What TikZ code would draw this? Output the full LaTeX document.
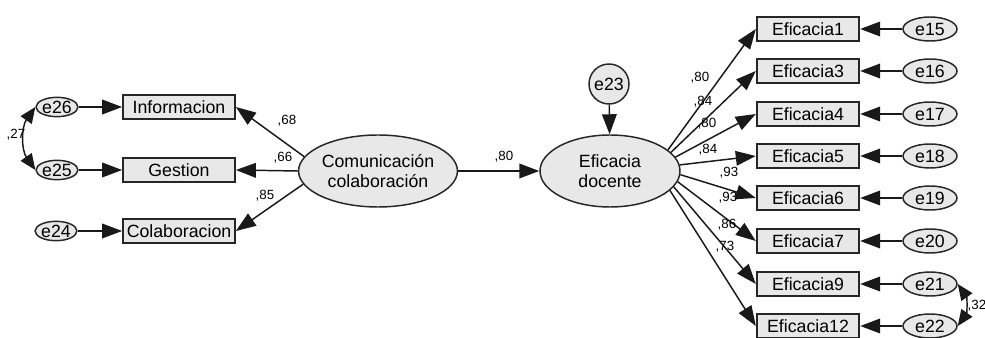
\documentclass[tikz,border=0pt]{standalone}
\usepackage{fontspec}
\setmainfont{Liberation Sans}
\usetikzlibrary{shapes,arrows.meta}

\begin{document}
\begin{tikzpicture}[x=0.75pt,y=-0.75pt,
  obs/.style={draw=black!85,line width=1.3pt,fill=black!9,rectangle,minimum width=77pt,minimum height=18pt,inner sep=0pt,font=\fontsize{13.3}{14}\selectfont},
  lat/.style={draw=black!85,line width=1.1pt,fill=black!9,ellipse,minimum width=105pt,minimum height=54pt,inner sep=0pt,align=center,font=\fontsize{13.3}{15}\selectfont},
  err/.style={draw=black!85,line width=1.1pt,fill=black!9,ellipse,minimum width=40.5pt,minimum height=18pt,inner sep=0pt,font=\fontsize{13.3}{14}\selectfont},
  lbl/.style={inner sep=0pt,font=\fontsize{10}{10}\selectfont},
  arr/.style={-{Triangle[length=15pt,width=11pt]},line width=1.1pt,black!90},
  cov/.style={{Triangle[length=12pt,width=10pt]}-{Triangle[length=12pt,width=10pt]},line width=1.1pt,black!90}]
  \useasboundingbox (0,0) rectangle (985,338);

  % left block
  \node[obs,minimum width=84pt] at (179,107) (inf) {Informacion};
  \node[obs,minimum width=84pt] at (179,170) (ges) {Gestion};
  \node[obs,minimum width=84pt] at (179,231) (col) {Colaboracion};

  \node[err,minimum width=28.5pt,minimum height=14.5pt] at (57,107) (e26) {e26};
  \node[err,minimum width=28.5pt,minimum height=14.5pt] at (57,170) (e25) {e25};
  \node[err,minimum width=28.5pt,minimum height=14.5pt] at (56,231) (e24) {e24};

  \draw[arr] (e26) -- (inf); \draw[arr] (e25) -- (ges); \draw[arr] (e24) -- (col);
  \draw[cov] (e26.west) to[bend right=35] (e25.west);
  \node[lbl] at (16,135) (l-27) {,27};

  \node[lat] at (378,171) (com) {Comunicación\\colaboración};
  \draw[arr] (com.169) -- (inf.east); \draw[arr] (com.180) -- (ges.east); \draw[arr] (com.190) -- (col.east);
  \node[lbl] at (287,121) (l-inf) {,68};
  \node[lbl] at (283,158) (l-ges) {,66};
  \node[lbl] at (265,196) (l-col) {,85};

  % middle
  \node[lat,minimum width=105pt] at (610,171) (doc) {Eficacia\\docente};
  \node[err,circle,minimum size=30pt] at (609,84) (e23) {e23};
  \draw[arr] (com) -- (doc); \draw[arr] (e23) -- (doc);
  \node[lbl] at (504,157) (l-doc) {,80};

  % right block
  \node[obs] at (808,29) (ef1) {Eficacia1};
  \node[obs] at (808,71) (ef3) {Eficacia3};
  \node[obs] at (808,114) (ef4) {Eficacia4};
  \node[obs] at (808,156) (ef5) {Eficacia5};
  \node[obs] at (808,198) (ef6) {Eficacia6};
  \node[obs] at (808,241) (ef7) {Eficacia7};
  \node[obs] at (808,284) (ef9) {Eficacia9};
  \node[obs] at (808,326) (ef12) {Eficacia12};

  \node[err] at (930,29) (e15) {e15};
  \node[err] at (930,71) (e16) {e16};
  \node[err] at (930,114) (e17) {e17};
  \node[err] at (930,156) (e18) {e18};
  \node[err] at (930,198) (e19) {e19};
  \node[err] at (930,241) (e20) {e20};
  \node[err] at (930,284) (e21) {e21};
  \node[err] at (930,326) (e22) {e22};

  \draw[arr] (doc.20) -- (ef1.west); \draw[arr] (doc.17) -- (ef3.west);
  \draw[arr] (doc.12) -- (ef4.west); \draw[arr] (doc.5) -- (ef5.west);
  \draw[arr] (doc.-3) -- (ef6.west); \draw[arr] (doc.-9) -- (ef7.west);
  \draw[arr] (doc.-14) -- (ef9.west); \draw[arr] (doc.-18) -- (ef12.west);

  \draw[arr] (e15) -- (ef1); \draw[arr] (e16) -- (ef3);
  \draw[arr] (e17) -- (ef4); \draw[arr] (e18) -- (ef5);
  \draw[arr] (e19) -- (ef6); \draw[arr] (e20) -- (ef7);
  \draw[arr] (e21) -- (ef9); \draw[arr] (e22) -- (ef12);
  \draw[cov] (e21.east) to[bend left=35] (e22.east);

  \node[lbl] at (700,78) (l-1) {,80};
  \node[lbl] at (703,102) (l-3) {,84};
  \node[lbl] at (707,124) (l-4) {,80};
  \node[lbl] at (708,150) (l-5) {,84};
  \node[lbl] at (729,173) (l-6) {,93};
  \node[lbl] at (728,198) (l-7) {,93};
  \node[lbl] at (727,225) (l-9) {,86};
  \node[lbl] at (725,247) (l-12) {,73};
  \node[lbl] at (977,306) (l-32) {,32};

\end{tikzpicture}
\end{document}
